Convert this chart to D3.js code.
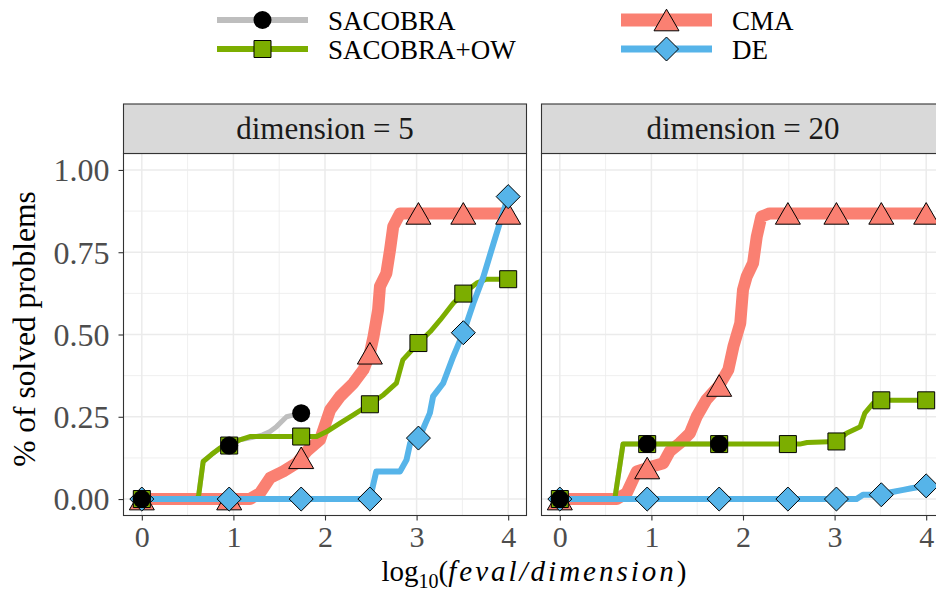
<!DOCTYPE html>
<html><head><meta charset="utf-8">
<script src="https://cdn.jsdelivr.net/npm/d3@7"></script>
<style>body{margin:0;background:#fff}svg{display:block}</style>
</head><body>
<svg id="chart" width="936" height="597"></svg>
<script>
// ---------------- data ----------------
const seriesNames = ["SACOBRA", "SACOBRA+OW", "CMA", "DE"];
const panelLabels = ["dimension = 5", "dimension = 20"];
const xTicks = [0, 1, 2, 3, 4];
const yTicks = [0, 0.25, 0.5, 0.75, 1];
const yTickLabels = ["0.00", "0.25", "0.50", "0.75", "1.00"];
const markerX = [0, 0.954, 1.74, 2.49, 3.02, 3.51, 4.0];

// dimension = 5
const sacobra5X = [0, 0.60, 0.62, 0.67, 0.76, 0.855, 0.95, 1.07, 1.20, 1.32, 1.40, 1.47, 1.58, 1.65, 1.74];
const sacobra5Y = [0, 0, 0.01, 0.114, 0.135, 0.155, 0.162, 0.18, 0.187, 0.195, 0.205, 0.22, 0.25, 0.255, 0.261];
const ow5X = [0, 0.60, 0.62, 0.67, 0.76, 0.855, 0.95, 1.07, 1.18, 1.91, 2.02, 2.165, 2.31, 2.49, 2.64, 2.78, 2.85, 3.02, 3.15, 3.26, 3.40, 3.52, 3.655, 3.76, 4.0];
const ow5Y = [0, 0, 0.01, 0.114, 0.135, 0.155, 0.162, 0.18, 0.19, 0.19, 0.205, 0.231, 0.256, 0.288, 0.317, 0.352, 0.423, 0.474, 0.509, 0.545, 0.595, 0.627, 0.656, 0.668, 0.668];
const cma5X = [0, 1.18, 1.29, 1.40, 1.545, 1.69, 1.80, 1.945, 2.056, 2.165, 2.31, 2.42, 2.49, 2.53, 2.58, 2.60, 2.67, 2.71, 2.745, 2.82, 4.0];
const cma5Y = [0, 0, 0.018, 0.064, 0.084, 0.109, 0.145, 0.18, 0.271, 0.312, 0.352, 0.393, 0.443, 0.494, 0.575, 0.646, 0.686, 0.757, 0.828, 0.868, 0.868];
const de5X = [0, 2.49, 2.56, 2.82, 2.89, 2.93, 3.03, 3.145, 3.18, 3.29, 3.40, 3.52, 3.62, 3.73, 3.84, 3.93, 4.0];
const de5Y = [0, 0, 0.084, 0.084, 0.119, 0.17, 0.187, 0.261, 0.312, 0.352, 0.433, 0.512, 0.595, 0.676, 0.777, 0.858, 0.919];

// dimension = 20
const sacobra20X = [0, 0.60, 0.69, 1.74];
const sacobra20Y = [0, 0, 0.167, 0.167];
const ow20X = [0, 0.60, 0.69, 2.62, 2.70, 3.02, 3.13, 3.28, 3.33, 3.42, 3.51, 4.0];
const ow20Y = [0, 0, 0.167, 0.167, 0.172, 0.175, 0.20, 0.22, 0.261, 0.291, 0.30, 0.30];
const cma20X = [0, 0.62, 0.73, 0.84, 0.95, 1.13, 1.20, 1.31, 1.42, 1.495, 1.60, 1.74, 1.84, 1.895, 1.97, 2.00, 2.04, 2.11, 2.15, 2.20, 2.29, 4.0];
const cma20Y = [0, 0, 0.018, 0.084, 0.094, 0.109, 0.145, 0.17, 0.20, 0.251, 0.302, 0.345, 0.393, 0.463, 0.534, 0.636, 0.676, 0.717, 0.797, 0.858, 0.868, 0.868];
const de20X = [0, 3.24, 3.31, 3.51, 3.60, 3.75, 3.84, 4.0];
const de20Y = [0, 0, 0.013, 0.013, 0.02, 0.028, 0.033, 0.04];

// ---------------- styles ----------------
const style = {
  "SACOBRA":    {color: "#bebebe", width: 5,  shape: "circle",   fill: "#000000"},
  "SACOBRA+OW": {color: "#7cae00", width: 5,  shape: "square",   fill: "#7cae00"},
  "CMA":        {color: "#fa8072", width: 12, shape: "triangle", fill: "#fa8072"},
  "DE":         {color: "#56b4e9", width: 6,  shape: "diamond",  fill: "#56b4e9"}
};
const FONT = "'Liberation Serif', 'Times New Roman', serif";

const panelsData = [
  {label: panelLabels[0], series: {
    "SACOBRA": [sacobra5X, sacobra5Y], "SACOBRA+OW": [ow5X, ow5Y], "CMA": [cma5X, cma5Y], "DE": [de5X, de5Y]}},
  {label: panelLabels[1], series: {
    "SACOBRA": [sacobra20X, sacobra20Y], "SACOBRA+OW": [ow20X, ow20Y], "CMA": [cma20X, cma20Y], "DE": [de20X, de20Y]}}
];

const svg = d3.select("#chart").style("font-family", FONT);

const panelTop = 153.5, panelBottom = 515.5;
const stripTop = 104;
const panelX = [[123.5, 526.5], [541.5, 944.5]];
const y = d3.scaleLinear().domain([-0.05, 1.05]).range([panelBottom, panelTop]);

function markerPath(shape, s) {
  if (shape === "triangle") {
    const w = 12.5 * s, h = 21.6 * s;
    return `M0,${-h/2}L${w},${h/2}L${-w},${h/2}Z`;
  }
  if (shape === "diamond") {
    const r = 12 * s;
    return `M0,${-r}L${r},0L0,${r}L${-r},0Z`;
  }
  if (shape === "square") {
    const r = 8.5 * s;
    return `M${-r},${-r}H${r}V${r}H${-r}Z`;
  }
  const r = 9 * s;
  return `M${r},0A${r},${r} 0 1,1 ${-r},0A${r},${r} 0 1,1 ${r},0Z`;
}
function drawMarker(g, name, cx, cy, s = 1) {
  const st = style[name];
  g.append("path")
    .attr("d", markerPath(st.shape, s))
    .attr("transform", `translate(${cx},${cy})`)
    .attr("fill", st.fill)
    .attr("stroke", "#000")
    .attr("stroke-width", st.shape === "circle" ? 0 : 1);
}
function interp(xs, ys, xv) {
  if (xv < xs[0] || xv > xs[xs.length - 1] + 1e-9) return null;
  const i = d3.bisectLeft(xs, xv);
  if (i === 0) return ys[0];
  if (i >= xs.length) return ys[ys.length - 1];
  const t = (xv - xs[i - 1]) / (xs[i] - xs[i - 1]);
  return ys[i - 1] + t * (ys[i] - ys[i - 1]);
}

panelsData.forEach((p, pi) => {
  const [x0, x1] = panelX[pi];
  const x = d3.scaleLinear().domain([-0.2, 4.2]).range([x0, x1]);
  const g = svg.append("g");

  g.append("rect").attr("x", x0).attr("y", panelTop).attr("width", x1 - x0)
    .attr("height", panelBottom - panelTop).attr("fill", "#fff");

  // minor grid
  const minorX = [0.5, 1.5, 2.5, 3.5];
  const minorY = [0.125, 0.375, 0.625, 0.875];
  g.selectAll(null).data(minorX).join("line")
    .attr("x1", d => x(d)).attr("x2", d => x(d)).attr("y1", panelTop).attr("y2", panelBottom)
    .attr("stroke", "#ebebeb").attr("stroke-width", 0.8);
  g.selectAll(null).data(minorY).join("line")
    .attr("y1", d => y(d)).attr("y2", d => y(d)).attr("x1", x0).attr("x2", x1)
    .attr("stroke", "#ebebeb").attr("stroke-width", 0.8);
  // major grid
  g.selectAll(null).data(xTicks).join("line")
    .attr("x1", d => x(d)).attr("x2", d => x(d)).attr("y1", panelTop).attr("y2", panelBottom)
    .attr("stroke", "#ebebeb").attr("stroke-width", 1.5);
  g.selectAll(null).data(yTicks).join("line")
    .attr("y1", d => y(d)).attr("y2", d => y(d)).attr("x1", x0).attr("x2", x1)
    .attr("stroke", "#ebebeb").attr("stroke-width", 1.5);

  // lines
  const lineOrder = ["SACOBRA", "CMA", "SACOBRA+OW", "DE"];
  const line = d3.line().x(d => x(d[0])).y(d => y(d[1])).curve(d3.curveLinear);
  lineOrder.forEach(name => {
    const [xs, ys] = p.series[name];
    const pts = xs.map((v, i) => [v, ys[i]]);
    g.append("path").datum(pts).attr("d", line)
      .attr("fill", "none").attr("stroke", style[name].color)
      .attr("stroke-width", style[name].width)
      .attr("stroke-linejoin", "round").attr("stroke-linecap", "butt");
  });

  // markers
  const markerOrder = ["CMA", "DE", "SACOBRA+OW", "SACOBRA"];
  markerOrder.forEach(name => {
    const [xs, ys] = p.series[name];
    markerX.forEach(mx => {
      const v = interp(xs, ys, mx);
      if (v === null) return;
      drawMarker(g, name, x(mx), y(v));
    });
  });

  // panel border
  g.append("rect").attr("x", x0).attr("y", panelTop).attr("width", x1 - x0)
    .attr("height", panelBottom - panelTop).attr("fill", "none")
    .attr("stroke", "#333333").attr("stroke-width", 1.1);

  // strip
  g.append("rect").attr("x", x0).attr("y", stripTop).attr("width", x1 - x0)
    .attr("height", panelTop - stripTop).attr("fill", "#d9d9d9")
    .attr("stroke", "#333333").attr("stroke-width", 1.1);
  g.append("text").attr("x", (x0 + x1) / 2).attr("y", 139)
    .attr("text-anchor", "middle").attr("font-size", 31).attr("fill", "#1a1a1a")
    .text(p.label);

  // x axis
  const xAxis = d3.axisBottom(x).tickValues(xTicks).tickSize(5).tickPadding(5).tickFormat(d3.format("d"));
  const ax = g.append("g").attr("transform", `translate(0,${panelBottom})`).call(xAxis);
  ax.select(".domain").remove();
  ax.selectAll(".tick line").attr("stroke", "#333333").attr("stroke-width", 1.1);
  ax.selectAll(".tick text").attr("font-size", 30).attr("fill", "#4d4d4d")
    .attr("font-family", FONT).attr("dy", "0.7em");

  if (pi === 0) {
    const yAxis = d3.axisLeft(y).tickValues(yTicks).tickSize(5).tickPadding(9)
      .tickFormat((d, i) => yTickLabels[i]);
    const ay = g.append("g").attr("transform", `translate(${x0},0)`).call(yAxis);
    ay.select(".domain").remove();
    ay.selectAll(".tick line").attr("stroke", "#333333").attr("stroke-width", 1.1);
    ay.selectAll(".tick text").attr("font-size", 32).attr("fill", "#4d4d4d")
      .attr("font-family", FONT).attr("dy", "0.34em");
  }
});

// axis titles
const xt = svg.append("text").attr("x", 534).attr("y", 581).attr("text-anchor", "middle")
  .attr("font-size", 29).attr("fill", "#000");
xt.append("tspan").text("log");
xt.append("tspan").attr("font-size", 20).attr("dy", 7).text("10");
xt.append("tspan").attr("dy", -7).text("(");
xt.append("tspan").attr("font-style", "italic").attr("letter-spacing", 3).text("feval/dimension");
xt.append("tspan").text(")");

svg.append("text").attr("transform", "translate(35,329) rotate(-90)")
  .attr("text-anchor", "middle").attr("font-size", 31.5).attr("fill", "#000")
  .text("% of solved problems");

// legend
const legendItems = [
  {name: "SACOBRA", lx: 217, ly: 20},
  {name: "SACOBRA+OW", lx: 217, ly: 49},
  {name: "CMA", lx: 621, ly: 20},
  {name: "DE", lx: 621, ly: 49}
];
const lg = svg.append("g");
legendItems.forEach(it => {
  const st = style[it.name];
  lg.append("line").attr("x1", it.lx).attr("x2", it.lx + 91).attr("y1", it.ly).attr("y2", it.ly)
    .attr("stroke", st.color).attr("stroke-width", st.width + 1);
  drawMarker(lg, it.name, it.lx + 45.5, it.ly);
  lg.append("text").attr("x", it.lx + 111).attr("y", it.ly + 9.5)
    .attr("font-size", 27).attr("fill", "#000").text(it.name);
});
</script>
</body></html>
